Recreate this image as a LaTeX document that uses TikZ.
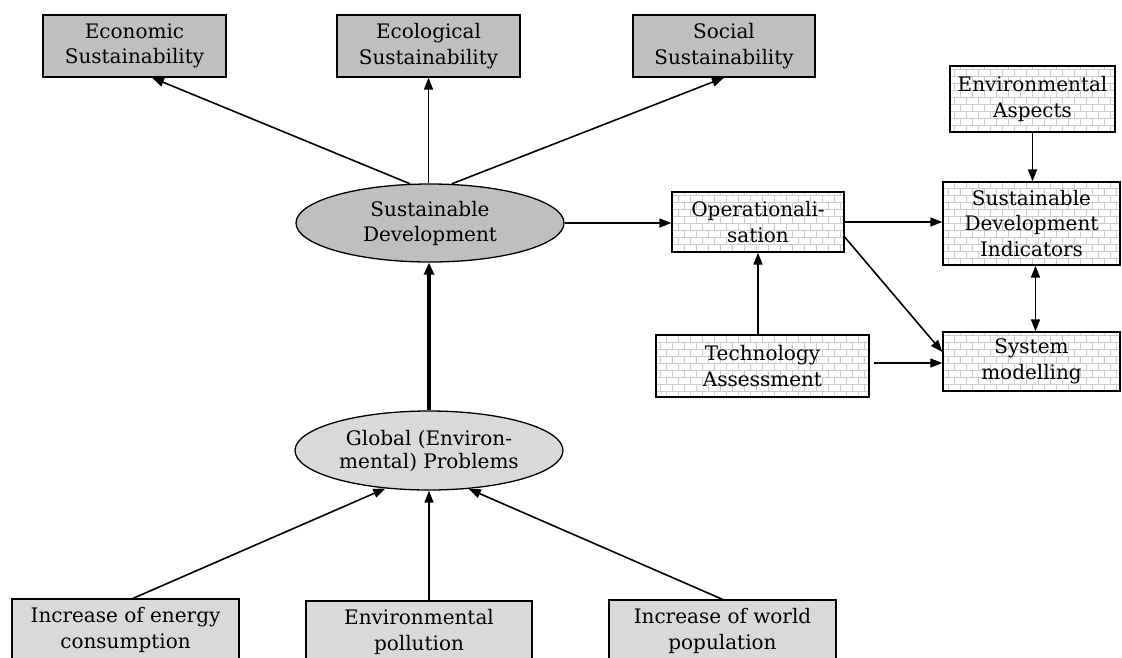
\documentclass[tikz,border=0pt]{standalone}
\usepackage{fontspec}
\setmainfont{DejaVu Serif}
\usetikzlibrary{arrows.meta,shapes.geometric,patterns.meta}
\tikzdeclarepattern{
  name=brickwall,
  type=uncolored,
  bottom left={(-0.5pt,-0.5pt)},
  top right={(12.5pt,14.5pt)},
  tile size={(12pt,14pt)},
  code={
    \draw[line width=0.7pt] (-0.5pt,0pt) -- (12.5pt,0pt) (-0.5pt,7pt) -- (12.5pt,7pt)
      (0pt,0pt) -- (0pt,7pt) (6pt,7pt) -- (6pt,14pt);
  }
}
\tikzset{
  base/.style={draw, line width=1.3pt, inner sep=0pt, align=center,
    font=\fontsize{20}{25.5}\selectfont},
  darkbox/.style={base, rectangle, fill=gray!50},
  lightbox/.style={base, rectangle, fill=gray!30},
  brickbox/.style={base, rectangle, preaction={fill=white}, pattern=brickwall, pattern color=gray!40},
  darkoval/.style={base, ellipse, fill=gray!50},
  lightoval/.style={base, ellipse, fill=gray!30},
  conn/.style={line width=1.6pt, -{Triangle[length=12pt,width=9pt]}},
  thickconn/.style={line width=3.2pt, -{Triangle[length=12pt,width=10pt]}},
  dconn/.style={line width=1.6pt, {Triangle[length=12pt,width=9pt]}-{Triangle[length=12pt,width=9pt]}}
}
\begin{document}
\begin{tikzpicture}[x=1pt,y=-1pt]
\useasboundingbox (0,0) rectangle (1122,657);
\fill[white] (0,0) rectangle (1122,657);
\clip (0,0) rectangle (1122,657);

% top boxes
\node[darkbox, minimum width=183pt, minimum height=62pt] (eco) at (134.5,46) {Economic\\Sustainability};
\node[darkbox, minimum width=183pt, minimum height=62pt] (ecol) at (428.5,46) {Ecological\\Sustainability};
\node[darkbox, minimum width=182pt, minimum height=62pt] (soc) at (724,46) {Social\\Sustainability};

% central ovals
\node[darkoval, minimum width=268pt, minimum height=78pt, font=\fontsize{20}{28}\selectfont] (sd) at (430,223) {\raisebox{-3pt}{Sustainable}\\Development};
\node[lightoval, minimum width=268pt, minimum height=79pt, font=\fontsize{20}{23}\selectfont] (glob) at (429,450.5) {Global (Environ-\\mental) Problems};

% right brick boxes
\node[brickbox, minimum width=172pt, minimum height=60pt] (oper) at (758,222) {Operationali-\\sation};
\node[brickbox, minimum width=165pt, minimum height=66pt] (ea) at (1032.5,99) {Environmental\\Aspects};
\node[brickbox, minimum width=177pt, minimum height=83pt] (sdi) at (1031.5,223.5) {Sustainable\\Development\\Indicators};
\node[brickbox, minimum width=177pt, minimum height=59pt] (sm) at (1031.5,361.5) {System\\modelling};
\node[brickbox, minimum width=213pt, minimum height=62pt] (tech) at (762.5,366) {Technology\\Assessment};

% bottom boxes
\node[lightbox, minimum width=227pt, minimum height=62pt] (en) at (125.5,630) {Increase of energy\\consumption};
\node[lightbox, minimum width=226pt, minimum height=62pt] (pol) at (419,632) {Environmental\\pollution};
\node[lightbox, minimum width=227pt, minimum height=62pt] (wor) at (722.5,631) {Increase of world\\population};

% connectors top
\draw[conn] (sd.117) -- ([xshift=17.5pt]eco.south);
\draw[conn] (sd.north -| ecol.south) -- (ecol.south);
\draw[conn] (sd.61) -- (soc.south);
\draw[thickconn] (glob.north) -- (glob.north |- sd.south);

% connectors bottom
\draw[conn] ([xshift=7.5pt]en.north) -- (glob.221);
\draw[conn] (glob.south |- pol.north) -- (glob.south);
\draw[conn] (wor.north) -- (glob.316);

% right part
\draw[conn] (sd.east) -- (sd.east -| oper.west);
\draw[conn] (oper.east) -- (oper.east -| sdi.west);
\draw[conn] ([yshift=-15pt]oper.east) -- ([yshift=9.5pt]sm.west);
\draw[conn] (tech.north -| oper.south) -- (oper.south);
\draw[conn] ([shift={(4pt,3pt)}]tech.east) -- ([yshift=3pt]sm.west |- tech.east);
\draw[conn] (ea.south) -- (ea.south |- sdi.north);
\draw[dconn] ([xshift=4pt]sdi.south) -- ([xshift=4pt]sm.north);
\end{tikzpicture}
\end{document}
